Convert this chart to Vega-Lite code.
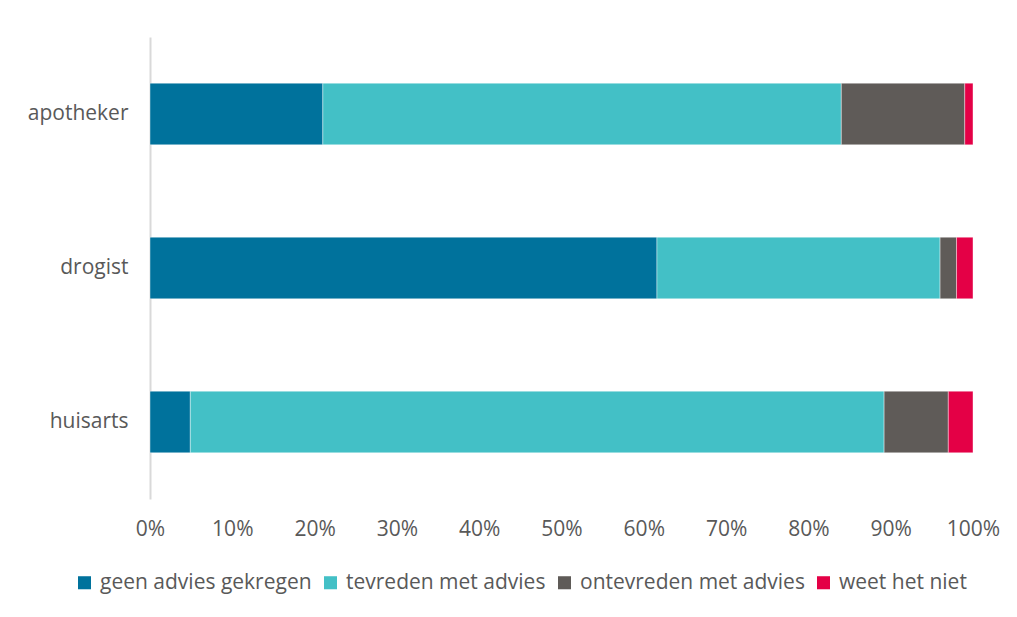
{
  "$schema": "https://vega.github.io/schema/vega-lite/v6.json",
  "width": 823,
  "height": 462,
  "autosize": "none",
  "padding": {"left": 150, "top": 37, "right": 44, "bottom": 118},
  "background": "white",
  "data": {
    "values": [
      {"bron": "apotheker", "antwoord": "geen advies gekregen", "k": 1, "v": 21},
      {"bron": "apotheker", "antwoord": "tevreden met advies", "k": 2, "v": 63},
      {"bron": "apotheker", "antwoord": "ontevreden met advies", "k": 3, "v": 15},
      {"bron": "apotheker", "antwoord": "weet het niet", "k": 4, "v": 1},
      {"bron": "drogist", "antwoord": "geen advies gekregen", "k": 1, "v": 61.6},
      {"bron": "drogist", "antwoord": "tevreden met advies", "k": 2, "v": 34.4},
      {"bron": "drogist", "antwoord": "ontevreden met advies", "k": 3, "v": 2},
      {"bron": "drogist", "antwoord": "weet het niet", "k": 4, "v": 2},
      {"bron": "huisarts", "antwoord": "geen advies gekregen", "k": 1, "v": 4.9},
      {"bron": "huisarts", "antwoord": "tevreden met advies", "k": 2, "v": 84.3},
      {"bron": "huisarts", "antwoord": "ontevreden met advies", "k": 3, "v": 7.8},
      {"bron": "huisarts", "antwoord": "weet het niet", "k": 4, "v": 3}
    ]
  },
  "mark": {"type": "bar", "stroke": "white", "strokeWidth": 1, "strokeOpacity": 0.4},
  "encoding": {
    "y": {
      "field": "bron",
      "type": "nominal",
      "sort": ["apotheker", "drogist", "huisarts"],
      "scale": {"paddingInner": 0.6, "paddingOuter": 0.3},
      "axis": {
        "title": null,
        "ticks": false,
        "domainColor": "#D9D9D9",
        "domainWidth": 2,
        "labelFont": "Open Sans",
        "labelFontSize": 21,
        "labelColor": "#595959",
        "labelPadding": 22,
        "labelLimit": 0
      }
    },
    "x": {
      "field": "v",
      "type": "quantitative",
      "stack": "normalize",
      "scale": {"domain": [0, 1], "nice": false},
      "axis": {
        "title": null,
        "format": ".0%",
        "values": [0, 0.1, 0.2, 0.3, 0.4, 0.5, 0.6, 0.7, 0.8, 0.9, 1],
        "grid": false,
        "ticks": false,
        "domain": false,
        "labelFont": "Open Sans",
        "labelFontSize": 21,
        "labelColor": "#595959",
        "labelPadding": 19,
        "labelFlush": false
      }
    },
    "order": {"field": "k", "type": "quantitative"},
    "color": {
      "field": "antwoord",
      "type": "nominal",
      "scale": {
        "domain": ["geen advies gekregen", "tevreden met advies", "ontevreden met advies", "weet het niet"],
        "range": ["#00729C", "#43C0C6", "#5F5B58", "#E40046"]
      },
      "legend": {
        "title": null,
        "orient": "none",
        "legendX": -76,
        "legendY": 535,
        "direction": "horizontal",
        "symbolType": "square",
        "symbolSize": 170,
        "symbolStrokeWidth": 0,
        "labelFont": "Open Sans",
        "labelFontSize": 21,
        "labelColor": "#595959",
        "labelOffset": 5,
        "labelLimit": 0,
        "columnPadding": 8
      }
    }
  },
  "config": {"view": {"stroke": null}}
}
